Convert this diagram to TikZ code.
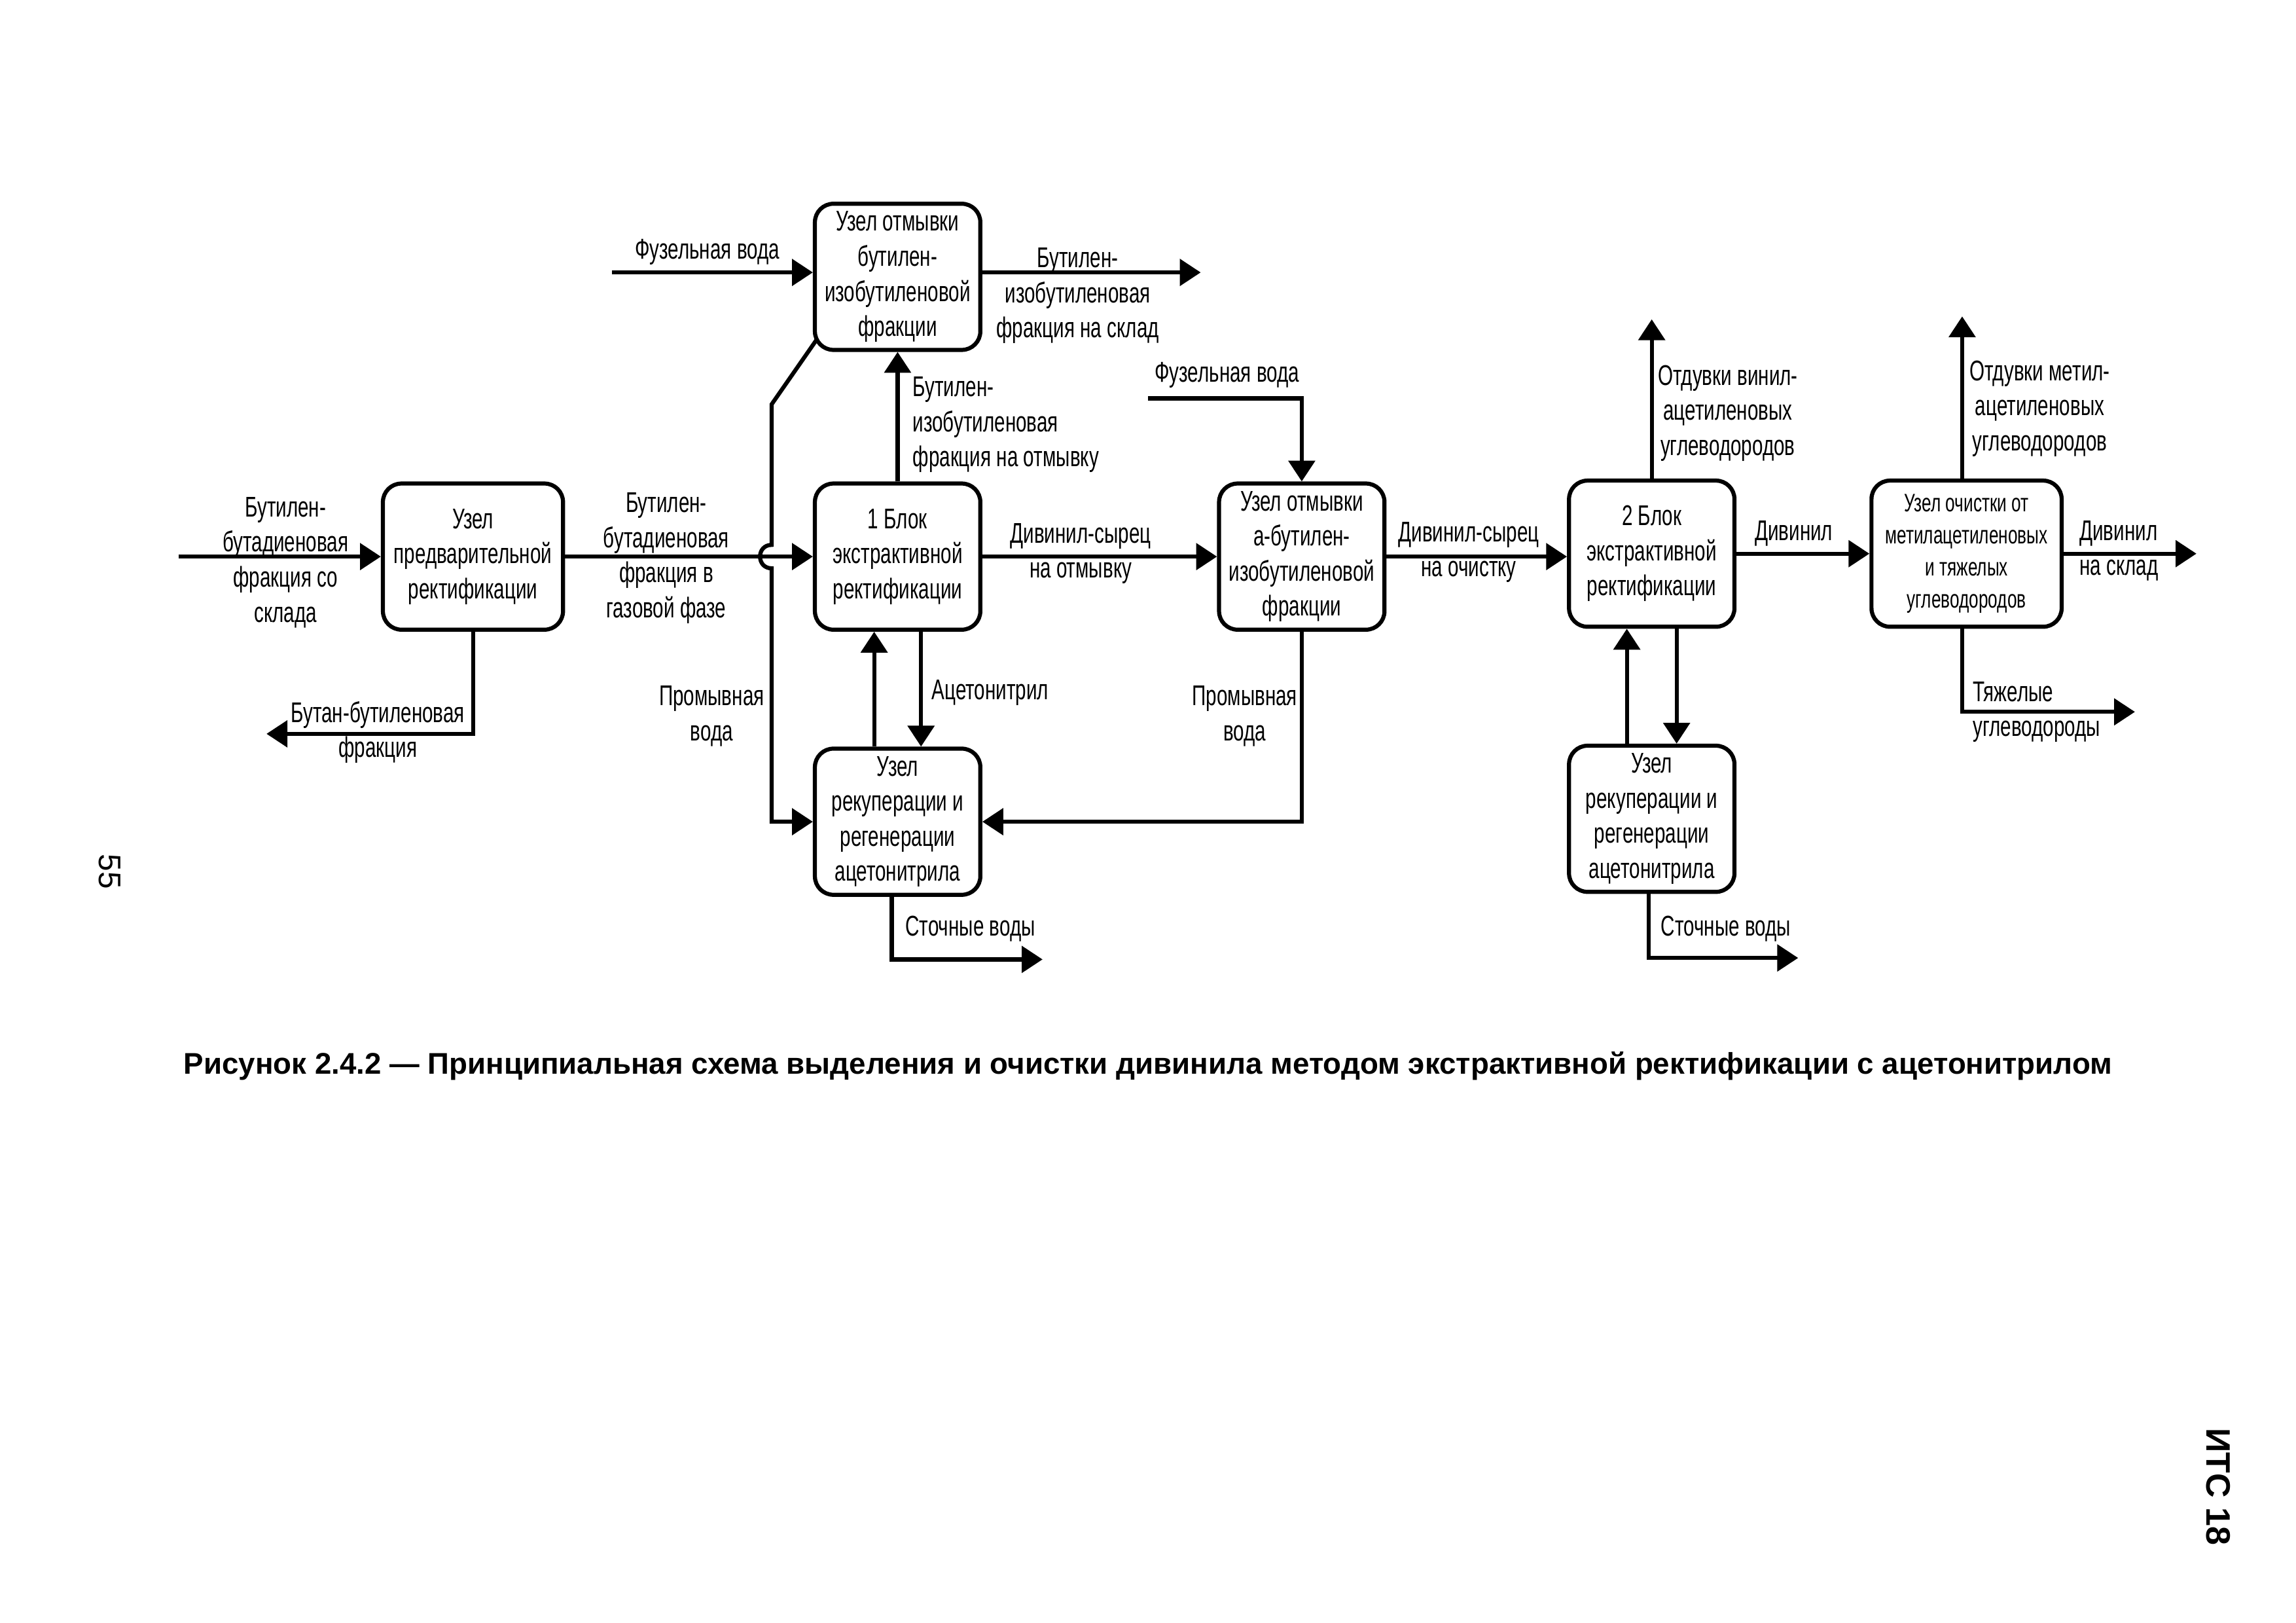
\documentclass[tikz,border=0pt]{standalone}
\usepackage{fontspec}
\setmainfont{Liberation Sans}
\newfontfamily\uzkfont{Liberation Sans}[FakeStretch=0.68]
\usetikzlibrary{arrows.meta,positioning,calc}

\tikzset{
  blok/.style={draw, line width=1.5pt, rounded corners=2.4mm, fill=white, align=center,
    minimum width=21.4mm, minimum height=18.9mm, inner sep=0pt,
    font=\uzkfont\fontsize{10.5}{12.9}\selectfont},
  lbl/.style={align=center, inner sep=0pt, font=\uzkfont\fontsize{10.5}{12.9}\selectfont},
  flow/.style={line width=1.5pt, -{Triangle[length=2.7mm,width=3.4mm]}},
}

\begin{document}
\begin{tikzpicture}[x=0.18941mm,y=-0.18941mm]
\useasboundingbox (0,0) rectangle (1568,1108);

% blocks
\node[blok, minimum width=23.3mm] (predrekt) at (323,380) {Узел\\предварительной\\ректификации};
\node[blok] (otmyv1) at (613,189) {Узел отмывки\\бутилен-\\изобутиленовой\\фракции};
\node[blok] (blok1) at (613,380) {1 Блок\\экстрактивной\\ректификации};
\node[blok] (rekup1) at (613,561) {Узел\\рекуперации и\\регенерации\\ацетонитрила};
\node[blok] (otmyv2) at (889,380) {Узел отмывки\\а-бутилен-\\изобутиленовой\\фракции};
\node[blok] (blok2) at (1128,378) {2 Блок\\экстрактивной\\ректификации};
\node[blok] (rekup2) at (1128,559) {Узел\\рекуперации и\\регенерации\\ацетонитрила};
\node[blok, minimum width=24.6mm, font=\uzkfont\fontsize{9.3}{11.8}\selectfont] (ochist) at (1343,378) {Узел очистки от\\метилацетиленовых\\и тяжелых\\углеводородов};

% free ends
\coordinate (syrjo) at (122,380);
\coordinate (butan) at (182,501);
\coordinate (fuzel1) at (418,186);
\coordinate (sklad1) at (820,186);
\coordinate (fuzel2) at (784,272);
\coordinate (stok1) at (712,655);
\coordinate (stok2) at (1228,654);
\coordinate (otduv1) at (1128,218);
\coordinate (otduv2) at (1340,216);
\coordinate (divsklad) at (1500,378);
\coordinate (tyazh) at (1458,486);
\coordinate (promkink) at (527,276);
\coordinate (promstart) at ($(otmyv1.south west)+(3,-9)$);

% flows
\draw[flow] (syrjo) -- (predrekt.west);
\draw[flow] (predrekt.east) -- (blok1.west);
\draw[flow] (predrekt.south) |- (butan);
\draw[flow] (fuzel1) -- (fuzel1 -| otmyv1.west);
\draw[flow] (otmyv1.east |- sklad1) -- (sklad1);
\draw[flow] (blok1.north) -- (otmyv1.south);
\draw[flow] (promstart) -- (promkink) -- ($(promkink |- blok1.west)+(0,-8)$)
  to[out=180,in=180,looseness=1.7] ($(promkink |- blok1.west)+(0,8)$) -- (promkink |- rekup1.west) -- (rekup1.west);
\draw[flow] (blok1.east) -- (otmyv2.west);
\draw[flow] ($(rekup1.north)+(-16,0)$) -- ($(blok1.south)+(-16,0)$);
\draw[flow] ($(blok1.south)+(16,0)$) -- ($(rekup1.north)+(16,0)$);
\draw[flow] ($(rekup1.south)+(-4,0)$) |- (stok1);
\draw[flow] (fuzel2) -| (otmyv2.north);
\draw[flow] (otmyv2.south) |- (rekup1.east);
\draw[flow] (otmyv2.east) -- (otmyv2.east -| blok2.west);
\draw[flow] (blok2.north) -- (otduv1);
\draw[flow] ($(rekup2.north)+(-17,0)$) -- ($(blok2.south)+(-17,0)$);
\draw[flow] ($(blok2.south)+(17,0)$) -- ($(rekup2.north)+(17,0)$);
\draw[flow] ($(rekup2.south)+(-2,0)$) |- (stok2);
\draw[flow] (blok2.east) -- (ochist.west);
\draw[flow] ($(ochist.north)+(-3,0)$) -- (otduv2);
\draw[flow] (ochist.east) -- (divsklad);
\draw[flow] ($(ochist.south)+(-3,0)$) |- (tyazh);

% labels
\node[lbl] (lsyrjo) at (195,384) {Бутилен-\\бутадиеновая\\фракция со\\склада};
\node[lbl] (lgaz) at (455,381) {Бутилен-\\бутадиеновая\\фракция в\\газовой фазе};
\node[lbl] (lbutan) at (258,500) {Бутан-бутиленовая\\фракция};
\node[lbl] (lfuzel1) at (483,172) {Фузельная вода};
\node[lbl] (lsklad1) at (736,202) {Бутилен-\\изобутиленовая\\фракция на склад};
\node[lbl, align=left, anchor=west] (lotmyvka) at (623,290) {Бутилен-\\изобутиленовая\\фракция на отмывку};
\node[lbl] (lprom1) at (486,489) {Промывная\\вода};
\node[lbl, anchor=west] (lacet) at (636,473) {Ацетонитрил};
\node[lbl, anchor=west] (lstok1) at (618,634) {Сточные воды};
\node[lbl] (ldiv1) at (738,378) {Дивинил-сырец\\на отмывку};
\node[lbl] (lfuzel2) at (838,256) {Фузельная вода};
\node[lbl] (lprom2) at (850,489) {Промывная\\вода};
\node[lbl] (ldiv2) at (1003,377) {Дивинил-сырец\\на очистку};
\node[lbl] (lotduv1) at (1180,282) {Отдувки винил-\\ацетиленовых\\углеводородов};
\node[lbl, anchor=west] (lstok2) at (1134,634) {Сточные воды};
\node[lbl] (ldiv3) at (1225,364) {Дивинил};
\node[lbl] (lotduv2) at (1393,279) {Отдувки метил-\\ацетиленовых\\углеводородов};
\node[lbl, align=left] (ldiv4) at (1447,376) {Дивинил\\на склад};
\node[lbl, align=left, anchor=west] (ltyazh) at (1347,486) {Тяжелые\\углеводороды};

\node[font=\bfseries\fontsize{11}{13}\selectfont] (caption) at (784,728) {Рисунок 2.4.2 — Принципиальная схема выделения и очистки дивинила методом экстрактивной ректификации с ацетонитрилом};
\node[rotate=-90, font=\fontsize{11.5}{14}\selectfont] (pagenum) at (75,595) {55};
\node[rotate=-90, font=\bfseries\fontsize{12.5}{15}\selectfont] (its) at (1515,1015) {ИТС 18};
\end{tikzpicture}
\end{document}
